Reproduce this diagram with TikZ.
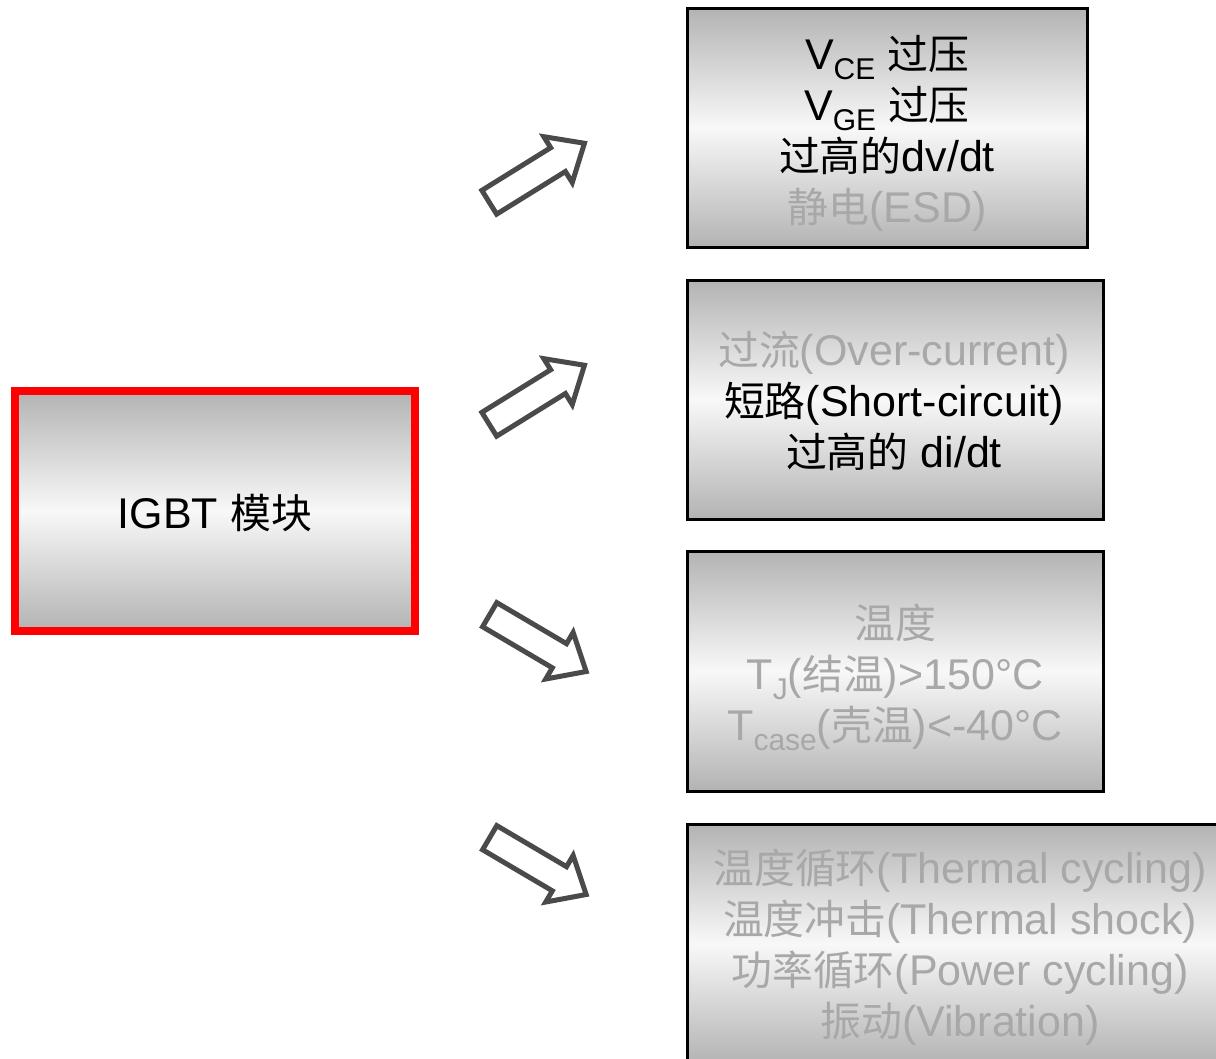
\documentclass[tikz,border=0pt]{standalone}
\usepackage{fontspec}
\setmainfont{Liberation Sans}
\newfontfamily\cjk[Scale=0.95]{Noto Sans CJK SC}
\usetikzlibrary{shapes.arrows}
\newcommand\zh[1]{{\cjk #1}}
\newcommand\subtx[1]{\raisebox{-0.23em}{\fontsize{30}{30}\selectfont #1}}
\definecolor{faded}{HTML}{A8A8A8}
\definecolor{arrowgray}{HTML}{4A4A4A}
\definecolor{boxtop}{HTML}{B3B3B3}
\definecolor{boxmid}{HTML}{F8F8F8}
\tikzset{
  txt/.style={font=\fontsize{43}{51}\selectfont, align=center, inner sep=0pt},
  graybox/.style={shade, top color=boxtop, bottom color=boxtop, middle color=boxmid,
    draw=black, line width=3pt, inner sep=0pt},
  igbtbox/.style={shade, top color=boxtop, bottom color=boxtop, middle color=boxmid,
    draw=red, line width=8pt, inner sep=0pt},
  blockarrow/.style={single arrow, draw=arrowgray, fill=white, line width=5pt,
    minimum height=112pt, inner xsep=0pt, inner ysep=11.5pt, single arrow head extend=13pt,
    single arrow tip angle=82}
}
\begin{document}
\begin{tikzpicture}[x=1pt,y=-1pt]
\path[use as bounding box] (0,0) rectangle (1216,1058);
\clip (0,0) rectangle (1216,1058);

\node[igbtbox, minimum width=400pt, minimum height=240pt] (igbt) at (214.9,511) {};
\node[txt] (tigbt) at (214.9,513) {IGBT \zh{模块}};

\node[graybox, minimum width=400pt, minimum height=239pt] (b1) at (887,127.5) {};
\node[txt] (t1) at (887,133)
  {V\subtx{CE} \zh{过压}\\ V\subtx{GE} \zh{过压}\\ \zh{过高的}dv/dt\\ \textcolor{faded}{\zh{静电}(ESD)}};

\node[graybox, minimum width=416pt, minimum height=239pt] (b2) at (895,399.5) {};
\node[txt] (t2) at (894,401)
  {\textcolor{faded}{\zh{过流}(Over-current)}\\ \zh{短路}(Short-circuit)\\ \zh{过高的} di/dt};

\node[graybox, minimum width=416pt, minimum height=240pt] (b3) at (895,671) {};
\node[txt, text=faded] (t3) at (895,677)
  {\zh{温度}\\ T\subtx{J}(\zh{结温})>150°C\\ T\subtx{case}(\zh{壳温})<-40°C};

\node[graybox, minimum width=546pt, minimum height=240pt] (b4) at (960,944) {};
\node[txt, text=faded] (t4) at (960,947)
  {\zh{温度循环}(Thermal cycling)\\ \zh{温度冲击}(Thermal shock)\\ \zh{功率循环}(Power cycling)\\ \zh{振动}(Vibration)};

\node[blockarrow, rotate=31.8] (a1) at (530,177) {};
\node[blockarrow, rotate=31.8] (a2) at (530,399) {};
\node[blockarrow, rotate=-30.5] (a3) at (531,639) {};
\node[blockarrow, rotate=-30.5] (a4) at (531,862) {};
\end{tikzpicture}
\end{document}
